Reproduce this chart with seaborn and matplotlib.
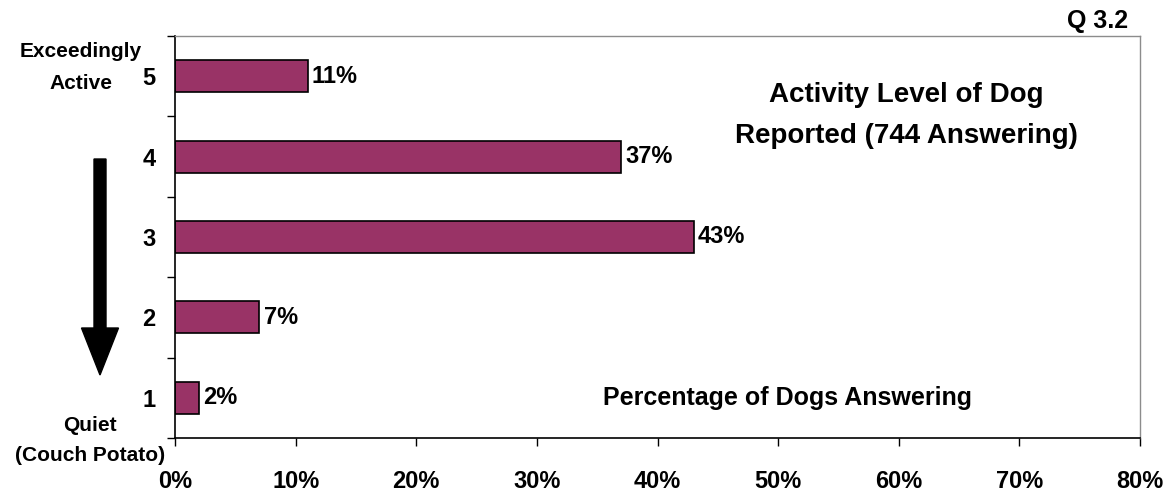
import numpy as np
import pandas as pd
import matplotlib
matplotlib.use("Agg")
import matplotlib.pyplot as plt
import seaborn as sns

# chart values
levels = ["5", "4", "3", "2", "1"]
percent = [11, 37, 43, 7, 2]
x_ticks = [0, 10, 20, 30, 40, 50, 60, 70, 80]

sns.set_style("white")
plt.rcParams['font.family'] = ['Liberation Sans Narrow', 'Liberation Sans', 'DejaVu Sans']
plt.rcParams['font.weight'] = 'bold'
plt.rcParams['text.color'] = 'black'
plt.rcParams['xtick.color'] = 'black'
plt.rcParams['ytick.color'] = 'black'

df = pd.DataFrame({"Level": levels, "Percent": percent})

fig = plt.figure(figsize=(11.67, 4.94), dpi=100)
ax = fig.add_axes([0.15, 0.1134, 0.8269, 0.8137])

sns.barplot(data=df, x="Percent", y="Level", order=levels, color="#993366",
            saturation=1, width=0.4, edgecolor="black", linewidth=1.2, ax=ax)

ax.set_xlim(0, 80)
ax.set_ylim(4.5, -0.5)
ax.set_xticks(x_ticks)
ax.set_xticklabels([f"{t}%" for t in x_ticks], fontsize=17, fontweight='bold')
ax.set_yticks(range(len(levels)))
ax.set_yticklabels(levels, fontsize=17, fontweight='bold')
ax.set_yticks(np.arange(-0.5, len(levels), 1), minor=True)
ax.tick_params(axis='y', which='major', length=0, pad=14)
ax.tick_params(axis='y', which='minor', length=6, width=1, direction='out', left=True)
ax.tick_params(axis='x', which='major', length=6, width=1, direction='out', bottom=True, pad=17)
ax.set_xlabel("")
ax.set_ylabel("")

for side in ["left", "bottom"]:
    ax.spines[side].set_color("black")
    ax.spines[side].set_linewidth(1.2)
for side in ["top", "right"]:
    ax.spines[side].set_color("#8c8c8c")
    ax.spines[side].set_linewidth(1.0)

# value labels
for i, v in enumerate(percent):
    ax.text(v + 0.35, i, f"{v}%", va="center", ha="left", fontsize=17, fontweight='bold')

ax.text(0.7575, 0.802, "Activity Level of Dog\nReported (744 Answering)", transform=ax.transAxes,
        ha="center", va="center", fontsize=20, fontweight='bold', linespacing=1.75)
ax.text(0.635, 0.10, "Percentage of Dogs Answering", transform=ax.transAxes,
        ha="center", va="center", fontsize=18, fontweight='bold')

fig.text(0.967, 0.958, "Q 3.2", ha="right", va="center", fontsize=18, fontweight='bold')
fig.text(0.069, 0.864, "Exceedingly\nActive", ha="center", va="center", fontsize=15,
         fontweight='bold', linespacing=1.85)
fig.text(0.077, 0.108, "Quiet\n(Couch Potato)", ha="center", va="center", fontsize=15,
         fontweight='bold', linespacing=1.75)

# downward arrow beside the axis
fig.add_artist(matplotlib.patches.FancyArrow(
    100 / 1167, (494 - 159) / 494, 0, -(375 - 159) / 494,
    width=12 / 1167, head_width=37 / 1167, head_length=47 / 494,
    length_includes_head=True, transform=fig.transFigure, color="black"))

fig.savefig("out.png", dpi=100)
